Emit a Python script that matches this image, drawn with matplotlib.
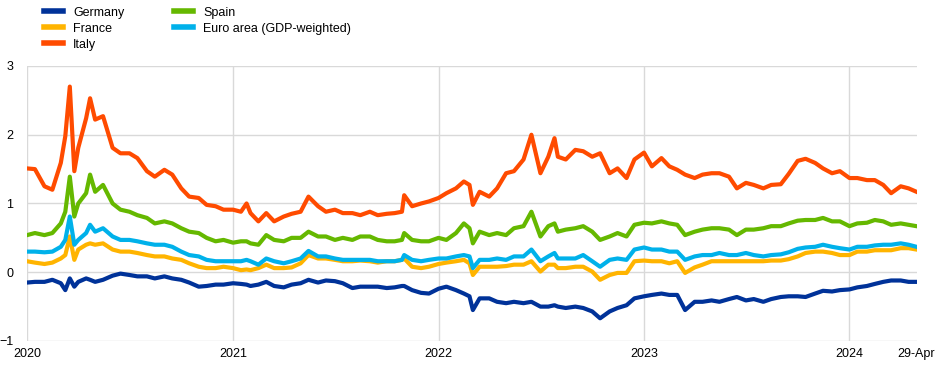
# coding=utf-8
import matplotlib
matplotlib.use('Agg')
import matplotlib.pyplot as plt
import pandas as pd

plt.rcParams['font.family'] = ['Liberation Sans', 'DejaVu Sans']
plt.rcParams['font.size'] = 9

# observation dates (semi-monthly plus a few event days)
dates = [
    '2020-01-01', '2020-01-15', '2020-02-01', '2020-02-15', '2020-03-01', '2020-03-09', '2020-03-17',
    '2020-03-25', '2020-04-01', '2020-04-15', '2020-04-22', '2020-05-01', '2020-05-15', '2020-06-01',
    '2020-06-15', '2020-07-01', '2020-07-15', '2020-08-01', '2020-08-15', '2020-09-01', '2020-09-15',
    '2020-10-01', '2020-10-15', '2020-11-01', '2020-11-15', '2020-12-01', '2020-12-15',
    '2021-01-01', '2021-01-15', '2021-01-25', '2021-02-01', '2021-02-15', '2021-03-01', '2021-03-15',
    '2021-04-01', '2021-04-15', '2021-05-01', '2021-05-15', '2021-06-01', '2021-06-15', '2021-07-01',
    '2021-07-15', '2021-08-01', '2021-08-15', '2021-09-01', '2021-09-15', '2021-10-01', '2021-10-15',
    '2021-10-28', '2021-11-01', '2021-11-15', '2021-12-01', '2021-12-15',
    '2022-01-01', '2022-01-15', '2022-02-01', '2022-02-15', '2022-02-25', '2022-03-03', '2022-03-15',
    '2022-04-01', '2022-04-15', '2022-05-01', '2022-05-15', '2022-06-01', '2022-06-15', '2022-07-01',
    '2022-07-15', '2022-07-26', '2022-08-01', '2022-08-15', '2022-09-01', '2022-09-15', '2022-10-01',
    '2022-10-15', '2022-11-01', '2022-11-15', '2022-12-01', '2022-12-15',
    '2023-01-01', '2023-01-15', '2023-02-01', '2023-02-15', '2023-03-01', '2023-03-15', '2023-04-01',
    '2023-04-15', '2023-05-01', '2023-05-15', '2023-06-01', '2023-06-15', '2023-07-01', '2023-07-15',
    '2023-08-01', '2023-08-15', '2023-09-01', '2023-09-15', '2023-10-01', '2023-10-15', '2023-11-01',
    '2023-11-15', '2023-12-01', '2023-12-15',
    '2024-01-01', '2024-01-15', '2024-02-01', '2024-02-15', '2024-03-01', '2024-03-15', '2024-04-01',
    '2024-04-15', '2024-04-29',
]

germany = [
    -0.15, -0.14, -0.14, -0.11, -0.16, -0.26, -0.09, -0.21, -0.14, -0.09, -0.11, -0.14, -0.11, -0.05,
    -0.02, -0.04, -0.06, -0.06, -0.09, -0.06, -0.09, -0.11, -0.15, -0.21, -0.20, -0.18, -0.18,
    -0.16, -0.17, -0.18, -0.20, -0.18, -0.14, -0.20, -0.22, -0.18, -0.16, -0.11, -0.15, -0.12, -0.13,
    -0.16, -0.23, -0.21, -0.21, -0.21, -0.23, -0.22, -0.20, -0.20, -0.26, -0.30, -0.31,
    -0.24, -0.21, -0.26, -0.31, -0.35, -0.55, -0.38, -0.38, -0.43, -0.45, -0.43, -0.45, -0.43, -0.50,
    -0.50, -0.48, -0.50, -0.52, -0.50, -0.52, -0.57, -0.67, -0.57, -0.52, -0.48, -0.38,
    -0.35, -0.33, -0.31, -0.33, -0.33, -0.55, -0.43, -0.43, -0.41, -0.43, -0.39, -0.36, -0.41, -0.39,
    -0.43, -0.39, -0.36, -0.35, -0.35, -0.36, -0.31, -0.27, -0.28, -0.26,
    -0.25, -0.22, -0.20, -0.17, -0.14, -0.12, -0.12, -0.14, -0.14,
]

france = [
    0.16, 0.14, 0.12, 0.14, 0.20, 0.25, 0.52, 0.18, 0.33, 0.40, 0.42, 0.40, 0.42, 0.33,
    0.30, 0.30, 0.28, 0.25, 0.23, 0.23, 0.20, 0.18, 0.13, 0.08, 0.06, 0.06, 0.08,
    0.06, 0.03, 0.04, 0.03, 0.06, 0.11, 0.06, 0.06, 0.07, 0.13, 0.25, 0.20, 0.20, 0.18,
    0.16, 0.16, 0.17, 0.16, 0.14, 0.16, 0.16, 0.18, 0.20, 0.08, 0.06, 0.08,
    0.12, 0.14, 0.16, 0.18, 0.13, -0.04, 0.08, 0.08, 0.08, 0.09, 0.11, 0.11, 0.16, 0.01,
    0.11, 0.11, 0.06, 0.06, 0.08, 0.08, 0.01, -0.11, -0.04, -0.01, -0.01, 0.16,
    0.17, 0.16, 0.16, 0.13, 0.16, -0.01, 0.07, 0.11, 0.16, 0.16, 0.16, 0.16, 0.16, 0.16,
    0.16, 0.17, 0.17, 0.19, 0.23, 0.28, 0.30, 0.30, 0.28, 0.25,
    0.25, 0.30, 0.30, 0.32, 0.32, 0.32, 0.35, 0.35, 0.33,
]

italy = [
    1.51, 1.50, 1.25, 1.20, 1.59, 1.98, 2.70, 1.47, 1.81, 2.24, 2.53, 2.22, 2.27, 1.81,
    1.73, 1.73, 1.66, 1.47, 1.39, 1.49, 1.42, 1.22, 1.10, 1.08, 0.98, 0.96, 0.91,
    0.91, 0.88, 1.00, 0.86, 0.74, 0.86, 0.74, 0.81, 0.85, 0.88, 1.10, 0.96, 0.88, 0.91,
    0.86, 0.86, 0.83, 0.88, 0.83, 0.85, 0.86, 0.88, 1.12, 0.96, 1.00, 1.03,
    1.08, 1.15, 1.22, 1.32, 1.27, 0.98, 1.17, 1.10, 1.22, 1.44, 1.47, 1.64, 2.00, 1.44,
    1.68, 1.95, 1.68, 1.64, 1.78, 1.76, 1.68, 1.73, 1.44, 1.51, 1.37, 1.64,
    1.74, 1.54, 1.66, 1.54, 1.49, 1.42, 1.37, 1.42, 1.44, 1.44, 1.39, 1.22, 1.30, 1.27,
    1.22, 1.27, 1.28, 1.43, 1.62, 1.65, 1.59, 1.51, 1.44, 1.47,
    1.37, 1.37, 1.34, 1.34, 1.27, 1.15, 1.25, 1.22, 1.17,
]

spain = [
    0.54, 0.57, 0.54, 0.57, 0.71, 0.88, 1.39, 0.81, 1.00, 1.15, 1.42, 1.17, 1.27, 1.00,
    0.91, 0.88, 0.83, 0.79, 0.71, 0.74, 0.71, 0.64, 0.59, 0.57, 0.50, 0.45, 0.47,
    0.43, 0.45, 0.45, 0.42, 0.40, 0.54, 0.47, 0.45, 0.50, 0.50, 0.59, 0.52, 0.52, 0.47,
    0.50, 0.47, 0.52, 0.52, 0.47, 0.45, 0.45, 0.47, 0.57, 0.47, 0.45, 0.45,
    0.50, 0.47, 0.57, 0.71, 0.64, 0.42, 0.59, 0.54, 0.57, 0.54, 0.64, 0.67, 0.88, 0.52,
    0.67, 0.71, 0.59, 0.62, 0.64, 0.67, 0.59, 0.47, 0.52, 0.57, 0.52, 0.69,
    0.72, 0.71, 0.74, 0.71, 0.69, 0.54, 0.59, 0.62, 0.64, 0.64, 0.62, 0.54, 0.62, 0.62,
    0.64, 0.67, 0.67, 0.71, 0.75, 0.76, 0.76, 0.79, 0.74, 0.74,
    0.67, 0.71, 0.72, 0.76, 0.74, 0.69, 0.71, 0.69, 0.67,
]

euro_area = [
    0.30, 0.30, 0.29, 0.30, 0.37, 0.47, 0.81, 0.40, 0.47, 0.57, 0.69, 0.59, 0.64, 0.52,
    0.47, 0.47, 0.45, 0.42, 0.40, 0.40, 0.37, 0.30, 0.25, 0.23, 0.18, 0.16, 0.16,
    0.16, 0.16, 0.18, 0.16, 0.11, 0.20, 0.16, 0.13, 0.16, 0.20, 0.31, 0.23, 0.23, 0.20,
    0.18, 0.18, 0.18, 0.18, 0.16, 0.16, 0.16, 0.18, 0.25, 0.18, 0.16, 0.18,
    0.20, 0.20, 0.23, 0.25, 0.23, 0.06, 0.18, 0.18, 0.20, 0.18, 0.23, 0.23, 0.33, 0.16,
    0.23, 0.28, 0.20, 0.20, 0.20, 0.25, 0.16, 0.08, 0.18, 0.20, 0.18, 0.33,
    0.36, 0.33, 0.33, 0.30, 0.30, 0.18, 0.23, 0.25, 0.25, 0.28, 0.25, 0.25, 0.28, 0.25,
    0.23, 0.25, 0.26, 0.29, 0.34, 0.36, 0.37, 0.40, 0.37, 0.35,
    0.33, 0.37, 0.37, 0.39, 0.40, 0.40, 0.42, 0.40, 0.37,
]

labels = ['Germany', 'France', 'Italy', 'Spain', 'Euro area (GDP-weighted)']
colors = ['#003299', '#FFB400', '#FF4B00', '#65B800', '#00B1EA']

tick_dates = ['2020-01-01', '2021-01-01', '2022-01-01', '2023-01-01', '2024-01-01', '2024-04-29']
tick_labels = ['2020', '2021', '2022', '2023', '2024', '29-Apr']

x = pd.to_datetime(dates)

fig = plt.figure(figsize=(9.45, 3.68), dpi=100)
ax = fig.add_axes([0.0286, 0.0734, 0.9418, 0.7473])

for vals, lab, col in zip([germany, france, italy, spain, euro_area], labels, colors):
    ax.plot(x, vals, color=col, lw=3, label=lab, solid_joinstyle='round')

ax.set_ylim(-1, 3)
ax.set_yticks([-1, 0, 1, 2, 3])
ax.set_xlim(pd.Timestamp('2020-01-01'), pd.Timestamp('2024-04-30'))
ax.set_xticks(pd.to_datetime(tick_dates))
ax.set_xticklabels(tick_labels)

# gridlines: horizontal at integers, vertical at year starts only
for yv in [-1, 0, 1, 2, 3]:
    ax.axhline(yv, color='#d9d9d9', lw=1, zorder=0)
for d in tick_dates[:-1]:
    ax.axvline(pd.Timestamp(d), color='#d9d9d9', lw=1, zorder=0)

for s in ax.spines.values():
    s.set_visible(False)
ax.tick_params(axis='both', length=0, labelsize=9, colors='black')
ax.tick_params(axis='y', pad=10)
ax.tick_params(axis='x', pad=5)

fig.legend(loc='upper left', bbox_to_anchor=(0.047, 0.982), bbox_transform=fig.transFigure,
           ncol=2, frameon=False, fontsize=9, handlelength=1.5, handletextpad=0.8,
           labelspacing=0.33, columnspacing=4.0, borderpad=0, borderaxespad=0)
for lh in fig.legends[0].get_lines():
    lh.set_linewidth(4)

fig.savefig('out.png', dpi=100)
